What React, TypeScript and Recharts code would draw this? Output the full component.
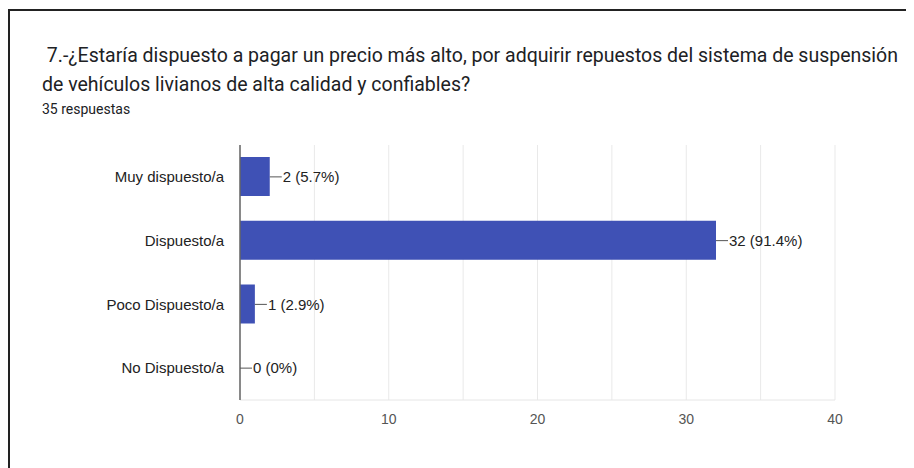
import React from "react";
import { ComposedChart, Bar, Scatter, XAxis, YAxis, CartesianGrid } from "recharts";

const categories = ["Muy dispuesto/a", "Dispuesto/a", "Poco Dispuesto/a", "No Dispuesto/a"];
const counts = [2, 32, 1, 0];
const percents = ["5.7%", "91.4%", "2.9%", "0%"];
const xTicks = [0, 5, 10, 15, 20, 25, 30, 35, 40];
const labelledTicks = [0, 10, 20, 30, 40];
const titleLine1 = " 7.-¿Estaría dispuesto a pagar un precio más alto, por adquirir repuestos del sistema de suspensión";
const titleLine2 = "de vehículos livianos de alta calidad y confiables?";
const subtitle = "35 respuestas";

const data = categories.map((c, i) => ({ name: c, value: counts[i], label: `${counts[i]} (${percents[i]})` }));

const FONT = "'Liberation Sans', Arial, sans-serif";

const ValueLabel = (props: any) => {
  const { cx, cy, payload } = props;
  const x0 = Number(cx);
  const y0 = Number(cy);
  return (
    <g>
      <line x1={x0} y1={y0} x2={x0 + 12} y2={y0} stroke="#555" strokeWidth={1} />
      <text x={x0 + 13} y={y0} dy="0.35em" fontSize={15} fontFamily={FONT} fill="#222">
        {payload.label}
      </text>
    </g>
  );
};

export default function App() {
  return (
    <div style={{ position: "relative", width: 906, height: 460, background: "#fff" }}>
      <div
        style={{
          position: "absolute",
          left: 0,
          top: 1,
          width: 906,
          height: 459,
          borderLeft: "2px solid #222",
          borderTop: "2px solid #222",
          boxSizing: "border-box",
        }}
      />
      <div
        style={{
          position: "absolute",
          left: 34,
          top: 33,
          fontFamily: "Roboto, sans-serif",
          fontSize: 19.5,
          lineHeight: "29px",
          color: "#202124",
          whiteSpace: "pre",
        }}
      >
        <div>{titleLine1}</div>
        <div>{titleLine2}</div>
        <div style={{ fontSize: 14, lineHeight: "20px", marginTop: 0, color: "#202124" }}>{subtitle}</div>
      </div>
      <div style={{ position: "absolute", left: 0, top: 0 }}>
        <ComposedChart
          width={906}
          height={460}
          data={data}
          layout="vertical"
          margin={{ top: 137, right: 79, bottom: 38, left: 0 }}
        >
          <CartesianGrid horizontal={false} vertical={true} stroke="#e9e9e9" />
          <XAxis
            type="number"
            domain={[0, 40]}
            ticks={xTicks}
            interval={0}
            tickFormatter={(v: number) => (labelledTicks.includes(v) ? String(v) : "")}
            axisLine={{ stroke: "#e6e6e6" }}
            tickLine={false}
            tickMargin={8}
            height={30}
            tick={{ fontSize: 14, fontFamily: FONT, fill: "#555" }}
          />
          <YAxis
            type="category"
            dataKey="name"
            width={232}
            axisLine={{ stroke: "#666", strokeWidth: 1.5 }}
            tickLine={false}
            tickMargin={10}
            tick={{ fontSize: 15, fontFamily: FONT, fill: "#222" }}
          />
          <Bar dataKey="value" fill="#3f51b5" barSize={39} isAnimationActive={false} />
          <Scatter dataKey="value" shape={ValueLabel} isAnimationActive={false} />
        </ComposedChart>
      </div>
    </div>
  );
}
